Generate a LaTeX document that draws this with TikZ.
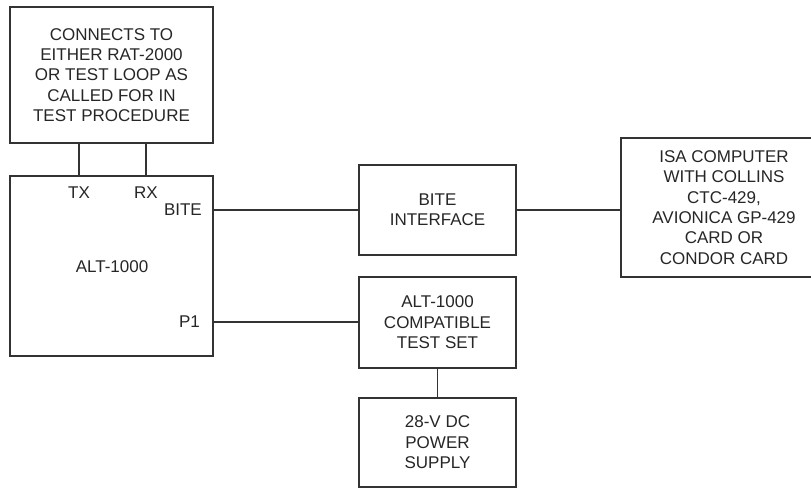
\documentclass[tikz,border=0pt]{standalone}
\usepackage{fontspec}
\setmainfont{Liberation Sans}
\begin{document}
\begin{tikzpicture}[x=1pt,y=-1pt,
  box/.style={draw=black!80,line width=1.5pt,align=center,inner sep=0pt,
    font=\fontsize{17}{20.4}\selectfont,text=black!85},
  lbl/.style={inner sep=0pt,font=\fontsize{17}{20.4}\selectfont,text=black!85},
  wire/.style={draw=black!80,line width=1.5pt}]
\useasboundingbox (0,0) rectangle (811,489);
\node[box,minimum width=203pt,minimum height=136pt] (top) at (111.5,75)
  {CONNECTS TO\\EITHER RAT-2000\\OR TEST LOOP AS\\CALLED FOR IN\\TEST PROCEDURE};
\node[box,minimum width=203pt,minimum height=180pt] (alt) at (111.5,266) {};
\node[lbl] (altlbl) at (112,267) {ALT-1000};
\node[lbl] (tx) at (79,193) {TX};
\node[lbl] (rx) at (146,193) {RX};
\node[lbl,anchor=east] (bitel) at (202,210) {BITE};
\node[lbl,anchor=east] (p1) at (200,322) {P1};
\node[box,minimum width=157pt,minimum height=90pt] (bite) at (437.5,210) {BITE\\INTERFACE};
\node[box,minimum width=157pt,minimum height=91pt] (test) at (437.5,322.5) {ALT-1000\\COMPATIBLE\\TEST SET};
\node[box,minimum width=157pt,minimum height=89pt] (power) at (437.5,442.5) {28-V DC\\POWER\\SUPPLY};
\node[box,minimum width=206pt,minimum height=139pt] (isa) at (724,207.5)
  {ISA COMPUTER\\WITH COLLINS\\CTC-429,\\AVIONICA GP-429\\CARD OR\\CONDOR CARD};
\draw[wire] (top.south -| tx) -- (alt.north -| tx);
\draw[wire] (top.south -| rx) -- (alt.north -| rx);
\draw[wire] (alt.east |- bite.west) -- (bite.west);
\draw[wire] (alt.east |- p1) -- (p1 -| test.west);
\draw[wire] (bite.east) -- (bite.east -| isa.west);
\draw[wire] (test.south) -- (power.north);
\end{tikzpicture}
\end{document}
